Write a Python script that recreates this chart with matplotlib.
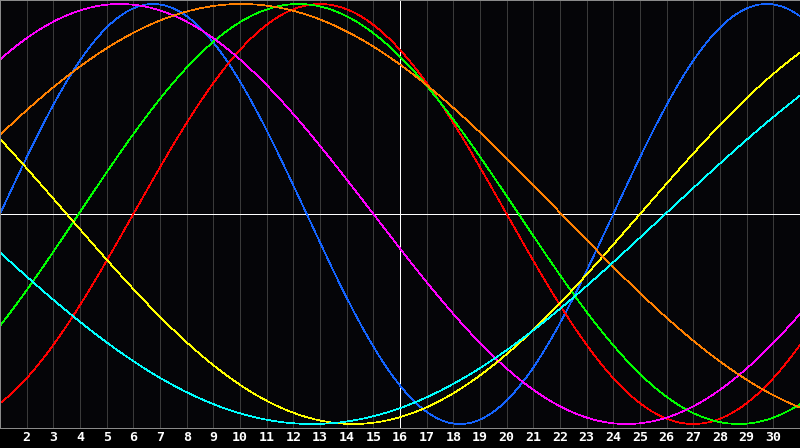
import numpy as np
import matplotlib
matplotlib.use('Agg')
import matplotlib.pyplot as plt

# biorhythm-style cycles:
# cycle length (days) and the day where each curve crosses zero going up
cycle_len = [23, 28, 33, 38, 43, 48, 53]
zero_up_day = [1.0, 6.0, 3.95, -4.0, 25.0, -1.95, 25.95]
colors = ['#1464ff', '#ff0000', '#00ff00', '#ff00ff', '#ffff00', '#ff8000', '#00ffff']
day_labels = list(range(2, 31))
today = 16
first_day, last_day = 1, 31

px = 0.72  # one pixel at 100 dpi

fig = plt.figure(figsize=(8, 4.48), dpi=100, facecolor='#000000')
ax = fig.add_axes([0, 20/448, 1, 428/448])
ax.set_facecolor('#050508')

# grid
for d in day_labels:
    ax.axvline(d, color='#3a3a3a', lw=px, antialiased=False, zorder=0)
ax.axvline(today, color='white', lw=px, antialiased=False, zorder=1)
ax.axhline(0, color='white', lw=px, antialiased=False, zorder=1)

t = np.linspace(first_day, last_day, 801)
for P, z, c in zip(cycle_len, zero_up_day, colors):
    ax.plot(t, np.sin(2*np.pi*(t - z)/P), color=c, lw=0.5, antialiased=False, zorder=2)

ax.set_xlim(first_day, last_day)
ax.set_ylim(-214/210, 214/210)
ax.set_yticks([])
ax.set_xticks(day_labels)
ax.set_xticklabels([str(d) for d in day_labels], color='white', fontweight='bold',
                   fontsize=9.5, family='DejaVu Sans Mono')
ax.tick_params(axis='x', length=0, pad=2.5)
for s in ['top', 'left', 'bottom']:
    ax.spines[s].set_color('#8a8a8a')
    ax.spines[s].set_linewidth(px)
    ax.spines[s].set_antialiased(False)
ax.spines['right'].set_visible(False)

fig.savefig('out.png', dpi=100, facecolor=fig.get_facecolor())
